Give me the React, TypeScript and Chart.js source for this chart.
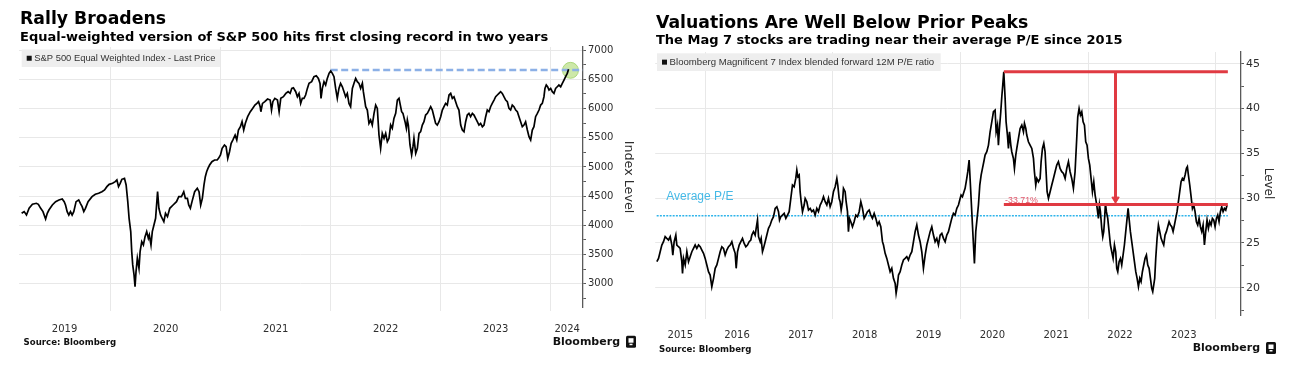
import React, { useEffect, useRef } from 'react';
import { Chart, registerables } from 'chart.js';

Chart.register(...registerables);

const SANS = '"DejaVu Sans", "Liberation Sans", sans-serif';
const ARIAL = '"Liberation Sans", Arial, sans-serif';
const GRID = '#e8e8e8';
const AXIS = '#5a5a5a';
const INK = '#2e2e2e';
const RED = '#e03a42';
const CYAN = '#2fb4ea';

// ---------------- Left chart: S&P 500 Equal Weighted Index ----------------
const ewTitle = 'Rally Broadens';
const ewSubtitle = 'Equal-weighted version of S&P 500 hits first closing record in two years';
const ewLegend = 'S&P 500 Equal Weighted Index - Last Price';
const ewAxisTitle = 'Index Level';
// [decimal year, index level]
const ewPoints: Array<[number, number]> = [
  [2019.19, 4205], [2019.213, 4234], [2019.234, 4177], [2019.258, 4291], [2019.288, 4360],
  [2019.324, 4377], [2019.342, 4360], [2019.363, 4291], [2019.384, 4234], [2019.408, 4108],
  [2019.423, 4205], [2019.438, 4262], [2019.469, 4348], [2019.499, 4405], [2019.529, 4434],
  [2019.559, 4451], [2019.577, 4405], [2019.589, 4348], [2019.604, 4234], [2019.619, 4177],
  [2019.634, 4234], [2019.649, 4177], [2019.664, 4234], [2019.685, 4405], [2019.709, 4434],
  [2019.724, 4377], [2019.74, 4320], [2019.755, 4234], [2019.77, 4291], [2019.794, 4405],
  [2019.83, 4491], [2019.86, 4531], [2019.89, 4548], [2019.92, 4576], [2019.944, 4605],
  [2019.965, 4662], [2019.986, 4702], [2020.017, 4719], [2020.041, 4748], [2020.056, 4776],
  [2020.071, 4662], [2020.086, 4719], [2020.101, 4788], [2020.125, 4805], [2020.14, 4691],
  [2020.155, 4405], [2020.167, 4120], [2020.182, 3891], [2020.191, 3549], [2020.2, 3321],
  [2020.212, 3149], [2020.221, 2950], [2020.23, 3207], [2020.242, 3435], [2020.257, 3264],
  [2020.267, 3549], [2020.282, 3720], [2020.297, 3663], [2020.312, 3806], [2020.327, 3891],
  [2020.342, 3777], [2020.351, 3834], [2020.366, 3663], [2020.378, 3891], [2020.393, 4006],
  [2020.408, 4120], [2020.426, 4576], [2020.438, 4291], [2020.453, 4177], [2020.468, 4120],
  [2020.483, 4063], [2020.498, 4205], [2020.516, 4148], [2020.537, 4291], [2020.567, 4348],
  [2020.598, 4405], [2020.619, 4491], [2020.643, 4491], [2020.664, 4576], [2020.679, 4462],
  [2020.697, 4462], [2020.709, 4348], [2020.724, 4291], [2020.739, 4405], [2020.763, 4576],
  [2020.787, 4634], [2020.803, 4576], [2020.818, 4348], [2020.833, 4462], [2020.848, 4691],
  [2020.86, 4833], [2020.872, 4919], [2020.884, 4976], [2020.899, 5033], [2020.92, 5090],
  [2020.944, 5119], [2020.968, 5119], [2020.98, 5147], [2020.998, 5204], [2021.013, 5318],
  [2021.034, 5376], [2021.049, 5347], [2021.064, 5147], [2021.08, 5261], [2021.095, 5404],
  [2021.11, 5461], [2021.131, 5547], [2021.146, 5461], [2021.161, 5632], [2021.179, 5689],
  [2021.194, 5775], [2021.209, 5632], [2021.224, 5747], [2021.245, 5861], [2021.269, 5946],
  [2021.29, 6003], [2021.311, 6060], [2021.329, 6089], [2021.344, 6118], [2021.359, 6032],
  [2021.365, 5946], [2021.38, 6089], [2021.401, 6118], [2021.426, 6163], [2021.45, 6146],
  [2021.462, 5975], [2021.474, 6118], [2021.492, 6175], [2021.516, 6146], [2021.531, 5946],
  [2021.546, 6175], [2021.57, 6203], [2021.592, 6260], [2021.613, 6289], [2021.631, 6260],
  [2021.646, 6346], [2021.661, 6357], [2021.682, 6289], [2021.697, 6203], [2021.712, 6260],
  [2021.727, 6089], [2021.742, 6175], [2021.757, 6175], [2021.772, 6232], [2021.788, 6346],
  [2021.803, 6432], [2021.827, 6460], [2021.848, 6546], [2021.869, 6563], [2021.888, 6517],
  [2021.903, 6432], [2021.912, 6175], [2021.924, 6346], [2021.939, 6460], [2021.954, 6403],
  [2021.969, 6517], [2021.985, 6603], [2022.0, 6643], [2022.015, 6603], [2022.03, 6546],
  [2022.045, 6346], [2022.06, 6175], [2022.075, 6346], [2022.09, 6432], [2022.106, 6374],
  [2022.121, 6289], [2022.136, 6203], [2022.151, 6260], [2022.166, 6089], [2022.181, 6032],
  [2022.197, 6346], [2022.212, 6432], [2022.227, 6517], [2022.242, 6460], [2022.257, 6432],
  [2022.272, 6346], [2022.288, 6432], [2022.297, 6289], [2022.309, 6146], [2022.318, 6032],
  [2022.333, 5975], [2022.348, 5747], [2022.363, 5804], [2022.378, 5718], [2022.394, 5918],
  [2022.409, 6060], [2022.424, 6003], [2022.439, 5547], [2022.454, 5318], [2022.469, 5575],
  [2022.485, 5490], [2022.5, 5575], [2022.515, 5433], [2022.53, 5490], [2022.545, 5718],
  [2022.56, 5661], [2022.575, 5832], [2022.591, 5918], [2022.606, 6146], [2022.621, 6175],
  [2022.63, 6089], [2022.645, 5946], [2022.657, 5918], [2022.676, 5775], [2022.688, 5661],
  [2022.697, 5804], [2022.706, 5718], [2022.721, 5376], [2022.736, 5204], [2022.748, 5347],
  [2022.757, 5490], [2022.773, 5233], [2022.788, 5318], [2022.803, 5575], [2022.818, 5604],
  [2022.833, 5718], [2022.848, 5775], [2022.863, 5889], [2022.879, 5918], [2022.894, 5975],
  [2022.909, 6032], [2022.924, 5975], [2022.939, 5861], [2022.954, 5747], [2022.969, 5718],
  [2022.985, 5775], [2023.0, 5861], [2023.015, 5975], [2023.03, 6032], [2023.045, 6089],
  [2023.06, 6060], [2023.076, 6232], [2023.091, 6260], [2023.106, 6175], [2023.121, 6203],
  [2023.136, 6118], [2023.151, 6032], [2023.166, 5975], [2023.182, 5718], [2023.197, 5632],
  [2023.212, 5604], [2023.227, 5775], [2023.242, 5889], [2023.257, 5918], [2023.272, 5861],
  [2023.288, 5918], [2023.303, 5889], [2023.318, 5832], [2023.333, 5775], [2023.348, 5718],
  [2023.363, 5747], [2023.379, 5689], [2023.394, 5718], [2023.409, 5861], [2023.424, 5975],
  [2023.439, 5946], [2023.454, 6032], [2023.469, 6089], [2023.485, 6146], [2023.5, 6203],
  [2023.515, 6232], [2023.53, 6260], [2023.545, 6289], [2023.56, 6260], [2023.575, 6203],
  [2023.591, 6146], [2023.606, 6118], [2023.621, 6003], [2023.636, 5975], [2023.651, 6060],
  [2023.666, 6032], [2023.682, 5975], [2023.697, 5946], [2023.712, 5861], [2023.727, 5775],
  [2023.742, 5689], [2023.757, 5718], [2023.772, 5775], [2023.788, 5632], [2023.803, 5518],
  [2023.818, 5461], [2023.833, 5632], [2023.848, 5689], [2023.863, 5861], [2023.879, 5918],
  [2023.894, 5975], [2023.909, 6060], [2023.924, 6089], [2023.939, 6203], [2023.948, 6346],
  [2023.96, 6403], [2023.972, 6374], [2023.985, 6317], [2024.0, 6346], [2024.015, 6289],
  [2024.03, 6260], [2024.045, 6346], [2024.06, 6374], [2024.075, 6403], [2024.091, 6374],
  [2024.106, 6432], [2024.121, 6489], [2024.136, 6546], [2024.151, 6603], [2024.163, 6672],
];
const ewGridYears = [2020, 2021, 2022, 2023, 2024];
const ewYearLabels = ['2019', '2020', '2021', '2022', '2023', '2024'];
const ewYearLabelAt = [2019.58, 2020.5, 2021.5, 2022.5, 2023.5, 2024.15];
const ewYTicks = [2750, 3000, 3250, 3500, 3750, 4000, 4250, 4500, 4750, 5000, 5250, 5500, 5750, 6000, 6250, 6500, 6750, 7000];
const ewYRange = [2600, 7055];
const ewXRange = [2019.166, 2024.294];
const ewRecordLine: Array<[number, number]> = [[2022.0, 6660], [2024.294, 6660]];
const ewLatestMarker: Array<[number, number]> = [[2024.18, 6655]];

// ---------------- Right chart: Magnificent 7 forward P/E ----------------
const peTitle = 'Valuations Are Well Below Prior Peaks';
const peSubtitle = 'The Mag 7 stocks are trading near their average P/E since 2015';
const peLegend = 'Bloomberg Magnificent 7 Index blended forward 12M P/E ratio';
const peAxisTitle = 'Level';
// [decimal year, P/E]
const pePoints: Array<[number, number]> = [
  [2015.243, 22.9], [2015.269, 23.27], [2015.295, 24.01], [2015.321, 24.76], [2015.347, 25.13],
  [2015.373, 25.69], [2015.399, 25.5], [2015.426, 25.32], [2015.452, 25.69], [2015.478, 24.76],
  [2015.493, 23.64], [2015.514, 25.13], [2015.54, 25.87], [2015.556, 24.76], [2015.582, 24.57],
  [2015.608, 24.39], [2015.634, 22.9], [2015.645, 21.6], [2015.661, 23.27], [2015.687, 22.53],
  [2015.713, 24.01], [2015.739, 22.9], [2015.765, 23.46], [2015.791, 24.01], [2015.817, 24.39],
  [2015.843, 24.76], [2015.869, 24.39], [2015.896, 24.76], [2015.922, 24.57], [2015.948, 24.2],
  [2015.974, 23.83], [2016.0, 23.27], [2016.026, 22.53], [2016.052, 21.78], [2016.078, 21.41],
  [2016.104, 20.11], [2016.131, 21.04], [2016.157, 22.16], [2016.183, 22.53], [2016.209, 23.27],
  [2016.235, 24.01], [2016.261, 24.57], [2016.287, 24.39], [2016.313, 23.64], [2016.339, 24.2],
  [2016.366, 24.57], [2016.392, 24.76], [2016.418, 25.13], [2016.444, 24.39], [2016.47, 23.83],
  [2016.486, 22.16], [2016.507, 24.01], [2016.533, 24.76], [2016.559, 25.13], [2016.585, 25.5],
  [2016.611, 24.94], [2016.637, 24.57], [2016.663, 24.76], [2016.689, 25.13], [2016.715, 25.32],
  [2016.731, 25.87], [2016.757, 26.25], [2016.783, 25.87], [2016.799, 26.62], [2016.82, 27.55],
  [2016.836, 25.69], [2016.862, 25.13], [2016.877, 25.5], [2016.898, 24.01], [2016.914, 24.39],
  [2016.94, 25.13], [2016.966, 25.87], [2016.992, 26.62], [2017.018, 26.99], [2017.044, 27.55],
  [2017.071, 27.92], [2017.097, 28.85], [2017.123, 29.03], [2017.149, 28.48], [2017.165, 27.55],
  [2017.185, 27.92], [2017.211, 28.1], [2017.238, 28.29], [2017.264, 27.73], [2017.29, 28.1],
  [2017.316, 28.48], [2017.342, 29.96], [2017.368, 31.45], [2017.394, 31.26], [2017.42, 32.19],
  [2017.436, 33.12], [2017.452, 32.38], [2017.473, 32.57], [2017.488, 30.71], [2017.504, 29.59],
  [2017.525, 28.48], [2017.551, 29.22], [2017.567, 29.96], [2017.593, 29.59], [2017.619, 28.66],
  [2017.645, 28.85], [2017.671, 28.48], [2017.697, 28.66], [2017.723, 28.1], [2017.749, 28.85],
  [2017.775, 28.48], [2017.802, 29.22], [2017.828, 29.59], [2017.854, 30.15], [2017.88, 29.59],
  [2017.906, 29.22], [2017.932, 29.96], [2017.958, 29.03], [2017.984, 29.59], [2018.01, 30.71],
  [2018.037, 31.26], [2018.063, 32.19], [2018.078, 31.45], [2018.099, 29.96], [2018.115, 29.59],
  [2018.131, 28.66], [2018.152, 29.59], [2018.167, 31.08], [2018.193, 30.71], [2018.209, 29.59],
  [2018.23, 28.48], [2018.245, 26.25], [2018.261, 27.73], [2018.282, 27.36], [2018.308, 26.8],
  [2018.334, 27.36], [2018.36, 28.1], [2018.386, 27.92], [2018.413, 28.48], [2018.439, 29.59],
  [2018.465, 28.85], [2018.491, 27.73], [2018.517, 28.1], [2018.543, 28.48], [2018.569, 28.66],
  [2018.595, 28.1], [2018.621, 27.73], [2018.648, 28.29], [2018.674, 27.73], [2018.7, 26.99],
  [2018.726, 27.36], [2018.752, 26.8], [2018.778, 25.13], [2018.794, 24.76], [2018.82, 23.83],
  [2018.846, 23.27], [2018.872, 22.53], [2018.898, 21.78], [2018.924, 22.16], [2018.95, 21.04],
  [2018.977, 20.48], [2018.992, 19.37], [2019.013, 20.3], [2019.029, 21.41], [2019.055, 21.78],
  [2019.081, 22.53], [2019.107, 23.09], [2019.133, 23.27], [2019.159, 23.46], [2019.185, 23.09],
  [2019.211, 23.64], [2019.238, 24.01], [2019.264, 25.13], [2019.29, 26.25], [2019.316, 26.99],
  [2019.342, 25.87], [2019.368, 25.13], [2019.394, 24.01], [2019.42, 22.16], [2019.447, 23.64],
  [2019.473, 24.76], [2019.499, 25.5], [2019.525, 26.25], [2019.551, 26.8], [2019.577, 25.87],
  [2019.603, 25.13], [2019.629, 25.5], [2019.655, 24.76], [2019.682, 25.87], [2019.708, 26.06],
  [2019.734, 25.5], [2019.76, 25.13], [2019.786, 25.87], [2019.812, 26.25], [2019.838, 26.99],
  [2019.864, 27.73], [2019.89, 28.29], [2019.916, 28.1], [2019.943, 28.85], [2019.969, 29.22],
  [2019.995, 29.96], [2020.01, 30.33], [2020.031, 30.15], [2020.047, 30.52], [2020.073, 31.08],
  [2020.099, 32.19], [2020.115, 32.94], [2020.136, 34.24], [2020.151, 32.19], [2020.167, 29.96],
  [2020.188, 26.99], [2020.204, 24.76], [2020.219, 22.71], [2020.24, 26.25], [2020.261, 27.73],
  [2020.282, 29.22], [2020.303, 31.45], [2020.324, 32.57], [2020.345, 33.31], [2020.366, 34.05],
  [2020.386, 34.8], [2020.413, 35.17], [2020.439, 35.91], [2020.465, 37.4], [2020.491, 38.51],
  [2020.517, 39.63], [2020.543, 39.81], [2020.559, 37.4], [2020.58, 38.14], [2020.595, 35.91],
  [2020.611, 37.77], [2020.632, 39.63], [2020.648, 41.3], [2020.663, 42.6], [2020.679, 44.09],
  [2020.7, 41.12], [2020.715, 38.51], [2020.736, 37.03], [2020.752, 35.54], [2020.768, 37.4],
  [2020.789, 35.91], [2020.804, 35.17], [2020.83, 34.42], [2020.846, 33.31], [2020.867, 34.8],
  [2020.883, 35.54], [2020.909, 36.65], [2020.935, 37.77], [2020.961, 38.14], [2020.987, 37.4],
  [2021.003, 38.33], [2021.024, 37.77], [2021.039, 37.03], [2021.065, 36.28], [2021.091, 35.91],
  [2021.118, 35.54], [2021.144, 34.42], [2021.159, 32.94], [2021.18, 31.45], [2021.196, 32.19],
  [2021.222, 31.82], [2021.248, 32.19], [2021.264, 34.05], [2021.285, 35.54], [2021.306, 36.1],
  [2021.326, 35.17], [2021.342, 32.94], [2021.358, 30.71], [2021.379, 29.96], [2021.405, 30.71],
  [2021.431, 31.45], [2021.457, 32.19], [2021.483, 32.94], [2021.509, 33.68], [2021.535, 34.05],
  [2021.561, 33.31], [2021.587, 32.94], [2021.614, 32.75], [2021.64, 32.19], [2021.666, 33.31],
  [2021.692, 34.05], [2021.718, 32.94], [2021.744, 32.19], [2021.77, 31.08], [2021.796, 32.94],
  [2021.822, 36.65], [2021.838, 39.07], [2021.859, 40.0], [2021.88, 39.26], [2021.901, 39.63],
  [2021.922, 38.51], [2021.943, 38.14], [2021.963, 36.28], [2021.984, 35.91], [2022.005, 34.42],
  [2022.026, 33.68], [2022.047, 32.19], [2022.068, 30.71], [2022.089, 31.82], [2022.11, 30.33],
  [2022.136, 29.22], [2022.162, 27.73], [2022.178, 29.22], [2022.193, 28.48], [2022.214, 26.62],
  [2022.23, 25.69], [2022.245, 26.25], [2022.256, 27.36], [2022.272, 29.41], [2022.287, 28.48],
  [2022.308, 27.73], [2022.329, 26.25], [2022.35, 24.76], [2022.371, 24.01], [2022.392, 23.27],
  [2022.413, 24.76], [2022.433, 24.01], [2022.449, 22.16], [2022.465, 21.78], [2022.486, 22.9],
  [2022.507, 23.27], [2022.527, 22.53], [2022.548, 23.64], [2022.569, 24.76], [2022.59, 26.25],
  [2022.611, 27.73], [2022.627, 28.85], [2022.642, 27.73], [2022.663, 26.25], [2022.684, 25.13],
  [2022.705, 24.01], [2022.726, 22.9], [2022.747, 21.78], [2022.768, 21.04], [2022.789, 20.11],
  [2022.81, 21.04], [2022.83, 20.67], [2022.851, 21.78], [2022.872, 22.53], [2022.893, 23.27],
  [2022.914, 23.64], [2022.935, 22.53], [2022.956, 22.16], [2022.977, 21.04], [2022.997, 19.93],
  [2023.013, 19.55], [2023.029, 20.3], [2023.044, 21.04], [2023.06, 23.27], [2023.081, 25.5],
  [2023.102, 26.99], [2023.123, 26.25], [2023.144, 25.5], [2023.164, 25.13], [2023.185, 24.76],
  [2023.206, 25.87], [2023.227, 26.25], [2023.248, 26.8], [2023.269, 27.36], [2023.29, 26.99],
  [2023.311, 26.8], [2023.332, 26.25], [2023.353, 26.99], [2023.373, 27.73], [2023.394, 28.48],
  [2023.415, 29.59], [2023.436, 30.71], [2023.457, 31.82], [2023.478, 32.19], [2023.499, 32.01],
  [2023.52, 32.57], [2023.541, 33.31], [2023.556, 33.5], [2023.572, 32.57], [2023.593, 31.45],
  [2023.614, 30.15], [2023.635, 28.85], [2023.655, 29.22], [2023.676, 28.48], [2023.697, 27.36],
  [2023.718, 26.99], [2023.739, 27.73], [2023.76, 26.8], [2023.781, 26.25], [2023.802, 26.99],
  [2023.823, 24.76], [2023.843, 26.25], [2023.864, 27.55], [2023.885, 26.62], [2023.906, 27.36],
  [2023.927, 26.99], [2023.948, 27.73], [2023.969, 27.55], [2023.99, 26.8], [2024.011, 27.73],
  [2024.031, 28.1], [2024.052, 27.36], [2024.073, 28.48], [2024.094, 29.03], [2024.115, 28.48],
  [2024.136, 28.85], [2024.157, 28.66], [2024.178, 29.22],
];
const peGridYears = [2016, 2018, 2020, 2022, 2024];
const peYearLabels = ['2015', '2016', '2017', '2018', '2019', '2020', '2021', '2022', '2023'];
const peYearLabelAt = [2015.61, 2016.5, 2017.5, 2018.5, 2019.5, 2020.5, 2021.5, 2022.5, 2023.5];
const peYTicks = [17.5, 20, 22.5, 25, 27.5, 30, 32.5, 35, 37.5, 40, 42.5, 45];
const peYRange = [16.95, 46.3];
const peXRange = [2015.217, 2024.396];
const peAverageLine: Array<[number, number]> = [[2015.24, 28.03], [2024.19, 28.03]];
const pePeakLine: Array<[number, number]> = [[2020.68, 44.1], [2024.19, 44.1]];
const peNowLine: Array<[number, number]> = [[2020.68, 29.29], [2024.19, 29.29]];
const peDropArrow: Array<[number, number]> = [[2022.43, 44.1], [2022.43, 29.87]];
const peAverageLabel = { text: 'Average P/E', x: 2015.39, y: 30.1 };
const peDropLabel = { text: '-33.71%', x: 2020.7, y: 29.5 };

const sourceText = 'Source: Bloomberg';

const toXY = (pts: Array<[number, number]>) => pts.map(([x, y]) => ({ x, y }));

function xAxis(range: number[], gridYears: number[], labelAt: number[], labels: string[], height: number, padding: number) {
  return {
    type: 'linear',
    position: 'bottom',
    min: range[0],
    max: range[1],
    afterBuildTicks: (scale: any) => {
      const vals = [...gridYears, ...labelAt].sort((a, b) => a - b);
      scale.ticks = vals.map((v) => ({ value: v }));
    },
    afterFit: (scale: any) => {
      scale.height = height;
    },
    grid: {
      color: (c: any) => (c.tick && gridYears.includes(c.tick.value) ? GRID : 'rgba(0,0,0,0)'),
      tickColor: (c: any) => (c.tick && gridYears.includes(c.tick.value) ? GRID : 'rgba(0,0,0,0)'),
      tickLength: 4,
      lineWidth: 1,
    },
    border: { display: false },
    ticks: {
      autoSkip: false,
      maxRotation: 0,
      minRotation: 0,
      padding,
      color: INK,
      font: { family: SANS, size: 10 },
      callback: (v: number) => {
        const i = labelAt.indexOf(v);
        return i >= 0 ? labels[i] : '';
      },
    },
  };
}

function yAxis(range: number[], ticks: number[], major: number, width: number, title: string, titleSize: number, titlePad: number, fontSize: number) {
  return {
    type: 'linear',
    position: 'right',
    min: range[0],
    max: range[1],
    afterBuildTicks: (scale: any) => {
      scale.ticks = ticks.map((v) => ({ value: v }));
    },
    afterFit: (scale: any) => {
      scale.width = width;
    },
    grid: {
      color: (c: any) => (c.tick && c.tick.value % major === 0 ? GRID : 'rgba(0,0,0,0)'),
      tickColor: AXIS,
      tickLength: 3,
      lineWidth: 1,
    },
    border: { display: true, color: AXIS, width: 1.3 },
    ticks: {
      padding: 2,
      color: INK,
      font: { family: SANS, size: fontSize },
      callback: (v: number) => (v % major === 0 ? String(v) : ''),
    },
    title: {
      display: true,
      text: title,
      color: INK,
      font: { family: SANS, size: titleSize },
      padding: { top: titlePad, bottom: 0 },
    },
  };
}

function drawHeader(ctx: CanvasRenderingContext2D, x: number, titleBase: number, subBase: number, title: string, sub: string) {
  ctx.fillStyle = '#000';
  ctx.textAlign = 'left';
  ctx.textBaseline = 'alphabetic';
  ctx.font = `bold 17.3px ${SANS}`;
  ctx.fillText(title, x, titleBase);
  ctx.font = `bold 13px ${SANS}`;
  ctx.fillText(sub, x, subBase);
}

function drawLegendBox(ctx: CanvasRenderingContext2D, x: number, y: number, w: number, h: number, text: string, size: number) {
  ctx.fillStyle = '#eeeeee';
  ctx.fillRect(x, y, w, h);
  ctx.fillStyle = '#111';
  ctx.fillRect(x + 5, y + h / 2 - 2.5, 5, 5);
  ctx.fillStyle = '#333';
  ctx.font = `${size}px ${ARIAL}`;
  ctx.textAlign = 'left';
  ctx.textBaseline = 'middle';
  ctx.fillText(text, x + 12.6, y + h / 2 + 0.5);
}

function drawFooter(ctx: CanvasRenderingContext2D, srcX: number, srcY: number, logoRight: number, logoY: number) {
  ctx.fillStyle = '#111';
  ctx.textAlign = 'left';
  ctx.textBaseline = 'middle';
  ctx.font = `bold 8.6px ${SANS}`;
  ctx.fillText(sourceText, srcX, srcY);
  ctx.font = `bold 11px ${SANS}`;
  ctx.textAlign = 'right';
  ctx.fillText('Bloomberg', logoRight, logoY);
  const ix = logoRight + 6;
  const iy = logoY - 6;
  ctx.beginPath();
  (ctx as any).roundRect(ix, iy, 10, 12, 1.5);
  ctx.fill();
  ctx.fillStyle = '#fff';
  ctx.fillRect(ix + 2.5, iy + 2.5, 5, 4.5);
  ctx.fillRect(ix + 3.5, iy + 8, 3, 1.5);
}

function ChartPanel(props: { config: any; width: number; height: number; left: number }) {
  const ref = useRef<HTMLCanvasElement | null>(null);
  useEffect(() => {
    if (!ref.current) return;
    const chart = new Chart(ref.current, props.config);
    return () => chart.destroy();
  }, []);
  return (
    <canvas
      ref={ref}
      width={props.width}
      height={props.height}
      style={{ position: 'absolute', left: props.left, top: 0, width: props.width, height: props.height }}
    />
  );
}

const leftConfig = {
  type: 'line',
  data: {
    datasets: [
      {
        data: toXY(ewPoints),
        borderColor: '#000',
        borderWidth: 1.7,
        pointRadius: 0,
        tension: 0,
        order: 0,
      },
      {
        data: toXY(ewRecordLine),
        borderColor: '#8cb0e6',
        borderWidth: 2.5,
        borderDash: [7, 3.5],
        pointRadius: 0,
        order: 1,
      },
      {
        data: toXY(ewLatestMarker),
        showLine: false,
        pointRadius: 8,
        pointBackgroundColor: 'rgba(172, 216, 112, 0.6)',
        pointBorderColor: 'rgba(150, 205, 90, 0.7)',
        pointBorderWidth: 1,
        order: 2,
      },
    ],
  },
  options: {
    responsive: false,
    animation: false,
    devicePixelRatio: 1,
    layout: { padding: { left: 19, top: 47, right: 0, bottom: 0 } },
    plugins: { legend: { display: false }, tooltip: { enabled: false } },
    scales: {
      x: xAxis(ewXRange, ewGridYears, ewYearLabelAt, ewYearLabels, 80, 12),
      y: yAxis(ewYRange, ewYTicks, 500, 67, ewAxisTitle, 12.7, 14.4, 10),
    },
  },
  plugins: [
    {
      id: 'ewDecor',
      afterDraw(chart: any) {
        const ctx = chart.ctx as CanvasRenderingContext2D;
        ctx.save();
        drawHeader(ctx, 20, 24, 40.7, ewTitle, ewSubtitle);
        drawLegendBox(ctx, 21.7, 49.5, 198.3, 17.5, ewLegend, 9.4);
        drawFooter(ctx, 23.6, 343, 620, 341.7);
        ctx.restore();
      },
    },
  ],
};

const rightConfig = {
  type: 'line',
  data: {
    datasets: [
      {
        data: toXY(pePoints),
        borderColor: '#000',
        borderWidth: 1.7,
        pointRadius: 0,
        tension: 0,
        order: 1,
      },
      {
        data: toXY(peAverageLine),
        borderColor: CYAN,
        borderWidth: 1.4,
        borderDash: [2, 1.2],
        pointRadius: 0,
        order: 3,
      },
      {
        data: toXY(pePeakLine),
        borderColor: RED,
        borderWidth: 3,
        pointRadius: 0,
        order: 0,
      },
      {
        data: toXY(peNowLine),
        borderColor: RED,
        borderWidth: 3,
        pointRadius: 0,
        order: 0,
      },
      {
        data: toXY(peDropArrow),
        borderColor: RED,
        borderWidth: 3,
        pointRadius: [0, 4.2],
        pointStyle: 'triangle',
        pointRotation: 180,
        pointBackgroundColor: RED,
        pointBorderColor: RED,
        pointBorderWidth: 1,
        order: 0,
      },
    ],
  },
  options: {
    responsive: false,
    animation: false,
    devicePixelRatio: 1,
    layout: { padding: { left: 5, top: 52, right: 0, bottom: 0 } },
    plugins: { legend: { display: false }, tooltip: { enabled: false } },
    scales: {
      x: xAxis(peXRange, peGridYears, peYearLabelAt, peYearLabels, 72, 10),
      y: yAxis(peYRange, peYTicks, 5, 61, peAxisTitle, 12, 27, 11),
    },
  },
  plugins: [
    {
      id: 'peDecor',
      afterDraw(chart: any) {
        const ctx = chart.ctx as CanvasRenderingContext2D;
        const xs = chart.scales.x;
        const ys = chart.scales.y;
        ctx.save();
        drawHeader(ctx, 6, 27.5, 44, peTitle, peSubtitle);
        drawLegendBox(ctx, 7, 53.3, 283.7, 17.7, peLegend, 9.6);
        drawFooter(ctx, 9, 350, 610, 348);
        ctx.textAlign = 'left';
        ctx.textBaseline = 'middle';
        ctx.fillStyle = '#45b9e6';
        ctx.font = `12px ${ARIAL}`;
        ctx.fillText(peAverageLabel.text, xs.getPixelForValue(peAverageLabel.x), ys.getPixelForValue(peAverageLabel.y));
        ctx.textBaseline = 'alphabetic';
        ctx.fillStyle = '#e2566b';
        ctx.font = `8.8px ${ARIAL}`;
        ctx.fillText(peDropLabel.text, xs.getPixelForValue(peDropLabel.x), ys.getPixelForValue(peDropLabel.y));
        ctx.restore();
      },
    },
  ],
};

export default function App() {
  useEffect(() => {
    document.body.style.margin = '0';
    document.body.style.background = '#fff';
  }, []);
  return (
    <div style={{ position: 'relative', width: 1302, height: 387, background: '#fff', overflow: 'hidden' }}>
      <style>{'body{margin:0;background:#fff;}'}</style>
      <ChartPanel config={leftConfig} width={650} height={387} left={0} />
      <ChartPanel config={rightConfig} width={652} height={387} left={650} />
    </div>
  );
}
